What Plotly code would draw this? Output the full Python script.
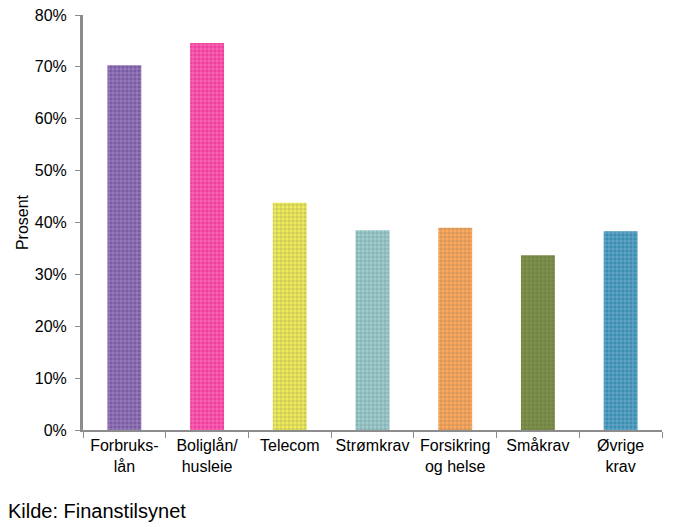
import plotly.graph_objects as go

categories = ["Forbruks-<br>lån", "Boliglån/<br>husleie", "Telecom", "Strømkrav",
              "Forsikring<br>og helse", "Småkrav", "Øvrige<br>krav"]
values = [0.703, 0.746, 0.438, 0.385, 0.390, 0.337, 0.383]
colors = ["#7B5BA5", "#F23E9E", "#EFEC5C", "#9DCDCF", "#FDAA5E", "#7D9148", "#3A8DB4"]
tick_vals = [0, 0.1, 0.2, 0.3, 0.4, 0.5, 0.6, 0.7, 0.8]

fig = go.Figure()
fig.add_trace(go.Bar(
    x=categories, y=values,
    marker=dict(color=colors, line=dict(width=0),
                pattern=dict(shape="+", size=4, solidity=0.2, fgcolor="rgba(255,255,255,0.35)")),
    width=0.41,
))

axis_color = "#8C8C8C"
fig.update_layout(
    width=693, height=527,
    margin=dict(l=83, r=31, t=15, b=97),
    plot_bgcolor="white", paper_bgcolor="white",
    font=dict(family="Liberation Sans, Arial, sans-serif", size=16, color="#000000"),
    showlegend=False,
    xaxis=dict(showline=True, linecolor=axis_color, linewidth=2, ticks="outside",
               tickson="boundaries", ticklen=6, tickcolor=axis_color, tickwidth=1,
               showgrid=False, tickfont=dict(size=16), tickangle=0, automargin=False),
    yaxis=dict(range=[0, 0.8], tickvals=tick_vals, tickformat=".0%", showline=True,
               linecolor=axis_color, linewidth=3, ticks="outside", ticklen=5,
               tickcolor=axis_color, tickwidth=1, showgrid=False, zeroline=False,
               tickfont=dict(size=16), ticklabelstandoff=5, automargin=False,
               title=dict(text="Prosent", font=dict(size=16), standoff=3)),
    annotations=[dict(text="Kilde: Finanstilsynet", x=0, y=0, xref="paper", yref="paper",
                      xanchor="left", yanchor="top", showarrow=False,
                      font=dict(size=20), xshift=-77, yshift=-68)],
)

fig.write_html("out.html", config={"displayModeBar": False},
               post_script="document.body.style.margin='0';document.body.style.overflow='hidden';")
